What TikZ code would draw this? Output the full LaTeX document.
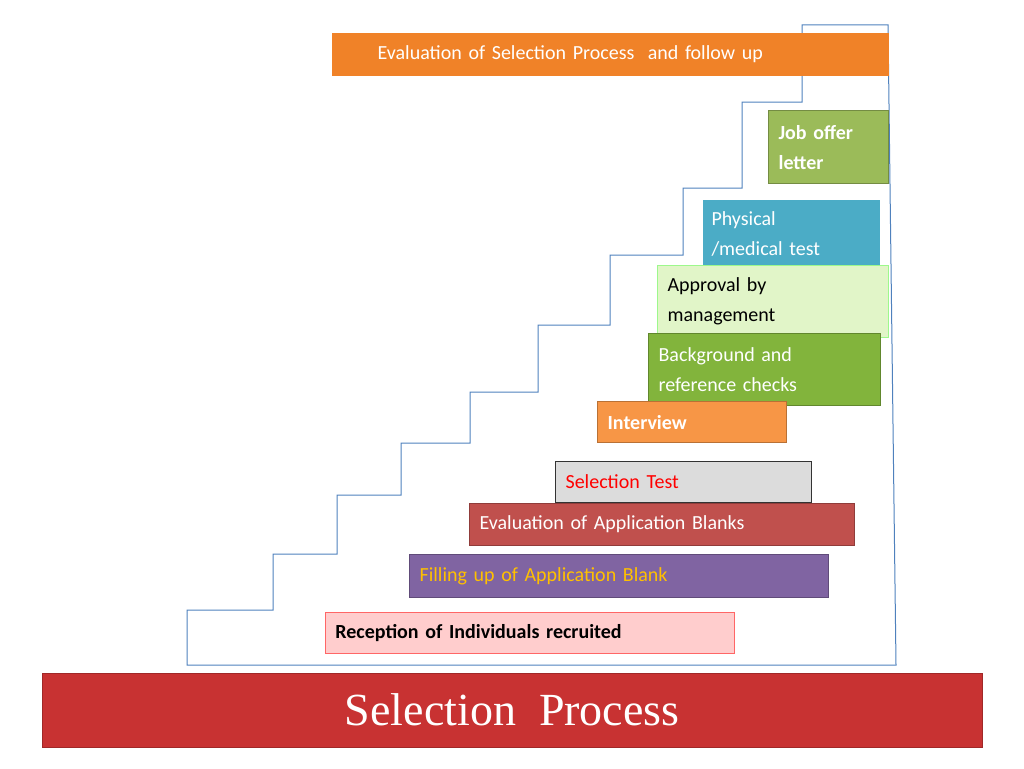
\documentclass[tikz,border=0pt]{standalone}
\usepackage{fontspec}
\setmainfont{Carlito}
\newfontfamily\titlefont{Liberation Serif}
\definecolor{stairblue}{RGB}{79,129,189}
\definecolor{topor}{RGB}{240,130,40}
\definecolor{jobgreen}{RGB}{155,187,89}
\definecolor{physblue}{RGB}{75,172,198}
\definecolor{apprgreen}{RGB}{225,245,200}
\definecolor{bggreen}{RGB}{130,180,60}
\definecolor{intor}{RGB}{247,150,70}
\definecolor{testgray}{RGB}{220,220,220}
\definecolor{evalred}{RGB}{192,80,77}
\definecolor{fillpurple}{RGB}{128,100,162}
\definecolor{fillyellow}{RGB}{255,192,0}
\definecolor{recpink}{RGB}{255,205,205}
\definecolor{bandred}{RGB}{200,50,50}
\tikzset{
  stepbox/.style={anchor=north west, draw=#1!75!black, fill=#1, line width=1.2pt,
    align=left, inner xsep=10pt, font=\fontsize{20}{30}\selectfont},
}
\begin{document}
\begin{tikzpicture}[x=1pt,y=-1pt]
	\useasboundingbox (0,0) rectangle (1024,768);
	
	% stair outline
	\draw[stairblue, line width=1pt]
	(187,665) -- (187,610) -- (273,610) -- (273,554) -- (337,554) -- (337,495)
	-- (401,495) -- (401,443) -- (470,443) -- (470,392) -- (538,392) -- (538,325)
	-- (610,325) -- (610,255) -- (683,255) -- (683,188) -- (742,188) -- (742,102)
	-- (802,102) -- (802,25) -- (888,25) -- (896,665) -- cycle;
	
	\node[stepbox=topor, draw=topor, text=white, minimum width=556, minimum height=42,
	text width=536, inner xsep=45pt, text width=466] (evalsp) at (332,33)
	{Evaluation of Selection Process\ \ and follow up};
	\node[stepbox=jobgreen, text=white, minimum width=120, minimum height=73, text width=100,
	font=\fontsize{20}{30}\selectfont\bfseries] (job) at (768,110) {Job offer\\letter};
	\node[stepbox=physblue, draw=white, line width=3pt, text=white, minimum width=180,
	minimum height=71, text width=160] (phys) at (700,197) {Physical\\/medical test};
	\node[stepbox=apprgreen, draw=apprgreen!70!green, minimum width=231, minimum height=72,
	text width=211] (appr) at (657,265) {Approval by\\management};
	\node[stepbox=bggreen, text=white, minimum width=232, minimum height=72, text width=212]
	(bg) at (648,333) {Background and\\reference checks};
	\node[stepbox=intor, text=white, minimum width=189, minimum height=41, text width=169,
	font=\fontsize{20}{24}\selectfont\bfseries] (intv) at (597,401) {Interview};
	\node[stepbox=testgray, draw=black!80, text=red, minimum width=256, minimum height=41,
	text width=236] (test) at (555,461) {Selection Test};
	\node[stepbox=evalred, text=white, minimum width=385, minimum height=42, text width=365]
	(evalapp) at (469,503) {Evaluation of Application Blanks};
	\node[stepbox=fillpurple, text=fillyellow, minimum width=419, minimum height=43,
	text width=399] (fill) at (409,554) {Filling up of Application Blank};
	\node[stepbox=recpink, draw=red!60, line width=0.8pt, minimum width=409, minimum height=41,
	text width=389, font=\fontsize{20}{24}\selectfont\bfseries] (rec) at (325,612)
	{Reception of Individuals recruited};
	
	% title band
	\node[anchor=north west, fill=bandred, draw=bandred!80!black, minimum width=940,
	minimum height=74, text=white, font=\titlefont\fontsize{46}{50}\selectfont]
	(title) at (42,673) {Selection\ \ Process};
\end{tikzpicture}
\end{document}
